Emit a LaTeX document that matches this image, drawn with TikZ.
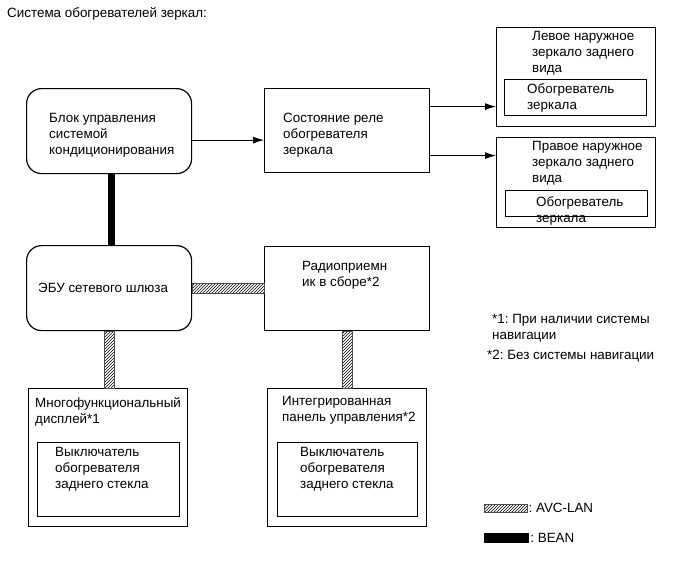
\documentclass[tikz,border=0pt]{standalone}
\usepackage{fontspec}
\setmainfont{Liberation Sans}
\usetikzlibrary{positioning,patterns,arrows.meta}

\begin{document}
\begin{tikzpicture}[x=1pt,y=-1pt,
    box/.style={draw,line width=1.2pt,inner sep=0,anchor=north west},
    roundbox/.style={box,rounded corners=15pt},
    txt/.style={inner sep=0,anchor=north west,align=left,font=\fontsize{13.4}{16}\selectfont\frenchspacing},
    arr/.style={-{Latex[length=11pt,width=7pt]},line width=0.9pt},
    avc/.style={draw=black!70,line width=0.4pt,pattern=north east lines},
    bean/.style={line width=7pt}]
    \useasboundingbox (0,0) rectangle (692,565);
    \node[txt] (title) at (7,7) {Система обогревателей зеркал:};
    % top row
    \node[roundbox,minimum width=165,minimum height=85] (ac) at (26,88) {};
    \node[box,minimum width=165,minimum height=84] (relay) at (264,88) {};
    \node[box,minimum width=159,minimum height=99] (lmir) at (496,27) {};
    \node[box,minimum width=142,minimum height=36] (lheat) at (504,79) {};
    \node[box,minimum width=159,minimum height=90] (rmir) at (496,137) {};
    \node[box,minimum width=142,minimum height=26] (rheat) at (505,190) {};
    \node[txt] (actxt) at (49,113) {Блок управления\\системой\\кондиционирования};
    \node[txt] (relaytxt) at (283,113) {Состояние реле\\обогревателя\\зеркала};
    \node[txt] (lmirtxt) at (532,31) {Левое наружное\\зеркало заднего\\вида};
    \node[txt] (lheattxt) at (527,83) {Обогреватель\\зеркала};
    \node[txt] (rmirtxt) at (532,141) {Правое наружное\\зеркало заднего\\вида};
    \node[txt] (rheattxt) at (536,196) {Обогреватель\\зеркала};
    % middle row
    \node[roundbox,minimum width=165,minimum height=85] (ecu) at (26,245) {};
    \node[box,minimum width=165,minimum height=84] (radio) at (264,246) {};
    \node[txt] (ecutxt) at (38,283) {ЭБУ сетевого шлюза};
    \node[txt] (radiotxt) at (302,261) {Радиоприемн\\ик в сборе*2};
    % bottom row
    \node[box,minimum width=159,minimum height=138] (mfd) at (28,388) {};
    \node[box,minimum width=142,minimum height=74] (mfdsw) at (37,442) {};
    \node[box,minimum width=159,minimum height=138] (panel) at (267,388) {};
    \node[box,minimum width=140,minimum height=74] (panelsw) at (277,442) {};
    \node[txt] (mfdtxt) at (35,397) {Многофункциональный\\дисплей*1};
    \node[txt] (mfdswtxt) at (55,447) {Выключатель\\обогревателя\\заднего стекла};
    \node[txt] (paneltxt) at (282,396) {Интегрированная\\панель управления*2};
    \node[txt] (panelswtxt) at (300,447) {Выключатель\\обогревателя\\заднего стекла};
    % notes
    \node[txt] (note1) at (492,314) {*1: При наличии системы\\навигации};
    \node[txt] (note2) at (487,350) {*2: Без системы навигации};
    % connections
    \draw[arr] ([yshift=-9pt]ac.east) -- ([yshift=-9pt]ac.east -| relay.west);
    \draw[arr] ([yshift=24pt]relay.east) -- ([yshift=24pt]relay.east -| lmir.west);
    \draw[arr] ([yshift=-25pt]relay.east) -- ([yshift=-25pt]relay.east -| rmir.west);
    \draw[bean] ([xshift=2pt]ac.south) -- ([xshift=2pt]ecu.north);
    \draw[avc] ([yshift=5pt]ecu.east) rectangle ([yshift=-5pt]ecu.east -| radio.west);
    \draw[avc] ([xshift=-5pt]ecu.south) rectangle ([xshift=5pt]ecu.south |- mfd.north);
    \draw[avc] ([xshift=-5pt]radio.south) rectangle ([xshift=5pt]radio.south |- panel.north);
    % legend
    \node[box,avc,minimum width=43,minimum height=8] (avckey) at (484,504) {};
    \node[txt,right=1pt of avckey] (avclbl) {: AVC-LAN};
    \node[box,fill=black,minimum width=44,minimum height=9] (beankey) at (484,533) {};
    \node[txt,right=1pt of beankey] (beanlbl) {: BEAN};
\end{tikzpicture}
\end{document}
